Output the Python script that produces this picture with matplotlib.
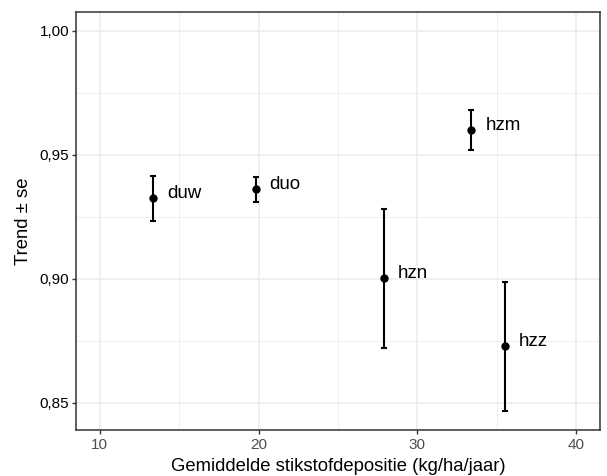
import matplotlib.pyplot as plt
import matplotlib.ticker as mticker

plt.rcParams['font.family'] = ['Liberation Sans', 'DejaVu Sans']

# data
labels = ['duw', 'duo', 'hzn', 'hzm', 'hzz']
depositie = [13.35, 19.81, 27.91, 33.40, 35.49]
trend = [0.9325, 0.9361, 0.9002, 0.9600, 0.8729]
se_low = [0.9234, 0.9310, 0.8723, 0.9520, 0.8467]
se_high = [0.9416, 0.9410, 0.9283, 0.9679, 0.8989]

xticks = [10, 20, 30, 40]
yticks = [0.85, 0.90, 0.95, 1.00]

fig = plt.figure(figsize=(6.07, 4.76), dpi=100)
ax = fig.add_axes([0.1252, 0.0966, 0.8633, 0.8782])

yerr = [[t - lo for t, lo in zip(trend, se_low)],
        [hi - t for t, hi in zip(trend, se_high)]]
ax.errorbar(depositie, trend, yerr=yerr, fmt='o', color='black',
            markersize=5, elinewidth=1.5, capsize=2.2, capthick=1.5, zorder=3)

for x, y, lab in zip(depositie, trend, labels):
    ax.annotate(lab, (x, y), xytext=(10, 3.5), textcoords='offset points',
                ha='left', va='center', fontsize=13.5, color='black')

ax.set_xlim(8.5, 41.5)
ax.set_ylim(0.8391, 1.0075)
ax.set_xticks(xticks)
ax.set_yticks(yticks)
ax.set_xticks([15, 25, 35], minor=True)
ax.set_yticks([0.875, 0.925, 0.975], minor=True)
ax.yaxis.set_major_formatter(mticker.FuncFormatter(lambda v, p: f'{v:.2f}'.replace('.', ',')))

ax.grid(True, which='major', color='#EBEBEB', linewidth=1.1, zorder=0)
ax.grid(True, which='minor', color='#EBEBEB', linewidth=0.55, zorder=0)
ax.set_axisbelow(True)

for s in ax.spines.values():
    s.set_color('#333333')
    s.set_linewidth(1.1)

ax.tick_params(which='major', length=3, width=1, color='#333333', labelsize=11)
ax.tick_params(which='minor', length=0)
ax.tick_params(axis='x', labelcolor='#4D4D4D', pad=3)
ax.tick_params(axis='y', labelcolor='black', pad=2)

ax.set_xlabel('Gemiddelde stikstofdepositie (kg/ha/jaar)', fontsize=13.3, labelpad=4)
ax.set_ylabel('Trend ± se', fontsize=13.3, labelpad=5)

fig.savefig('out.png', dpi=100)
